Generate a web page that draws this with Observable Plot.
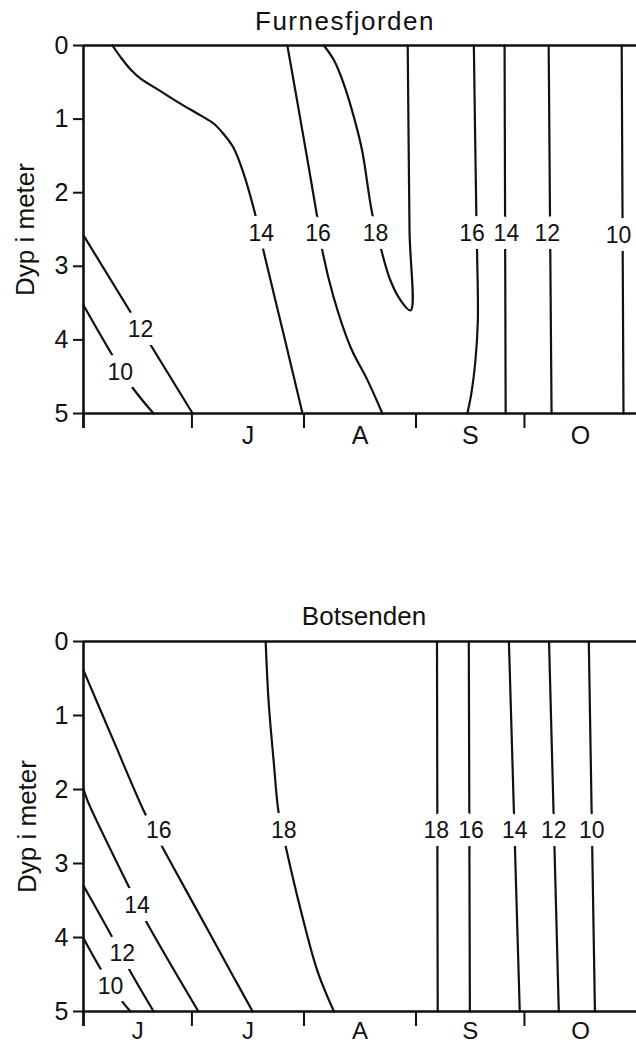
<!DOCTYPE html>
<html>
<head>
<meta charset="utf-8">
<script src="https://cdn.jsdelivr.net/npm/d3@7"></script>
<script src="https://cdn.jsdelivr.net/npm/@observablehq/plot@0.6"></script>
<style>
  body { margin: 0; background: #fff; font-family: "Liberation Sans", Arial, Helvetica, sans-serif; }
  .panel { position: relative; width: 636px; }
  .title { position: absolute; left: 0; text-align: center; font-size: 26px; line-height: 26px; color: #111; white-space: nowrap; }
</style>
</head>
<body>
<div class="panel" id="p1"><div class="title" id="t1" style="top:8px;width:690px;letter-spacing:1.5px">Furnesfjorden</div></div>
<div class="panel" id="p2"><div class="title" id="t2" style="top:83px;width:728px">Botsenden</div></div>
<script>
// x = days after 1 June, y = depth (m)
const monthStarts = [0, 30, 61, 92, 122, 153];
const monthLabelsTop = ["", "J", "A", "S", "O"];
const monthLabelsBottom = ["J", "J", "A", "S", "O"];
const depthTicks = [0, 1, 2, 3, 4, 5];
const yLabel = "Dyp i meter";

// Furnesfjorden isotherms: [day, depth]
const furnes14a = [[8.0,0],[10.6,0.18],[13.3,0.34],[15.8,0.45],[21.3,0.62],[26.8,0.79],[32.4,0.95],[36.0,1.06],[38.7,1.20],[41.5,1.39],[44.3,1.74],[47.6,2.31],[49.8,2.79],[55.3,3.91],[60.6,5]];
const furnes16a = [[56.4,0],[60.6,1.17],[64.7,2.34],[66.1,2.79],[69.2,3.42],[73.9,4.10],[78.6,4.55],[82.7,5]];
const furnes18  = [[66.5,0],[69.3,0.20],[72.0,0.52],[74.8,0.97],[77.1,1.43],[79.9,2.29],[82.5,2.80],[84.9,3.19],[87.7,3.46],[90.5,3.60],[90.2,2.51],[89.7,0]];
const furnes16b = [[108.0,0],[108.7,2.34],[108.9,2.83],[109.1,3.74],[108.4,4.3],[107.3,4.73],[106.2,5]];
const furnes14b = [[116.5,0],[116.8,5]];
const furnes12b = [[128.7,0],[129.5,5]];
const furnes10b = [[148.9,0],[149.4,5]];
const furnes12a = [[0,2.58],[30.2,5]];
const furnes10a = [[0,3.53],[8.0,4.21],[13.6,4.65],[19.4,5]];
// labels: [temp, day, depth]
const furnesLabels = [[14,49.2,2.55],[16,64.9,2.55],[18,80.8,2.55],[16,107.5,2.55],[14,117.0,2.55],[12,128.3,2.55],[10,148.0,2.58],[12,15.8,3.86],[10,10.2,4.45]];

// Botsenden isotherms
const bots16a = [[0,0.39],[8.3,1.34],[16.6,2.28],[21.3,2.73],[31.5,3.64],[41.6,4.54],[46.8,5]];
const bots14a = [[0,1.99],[1.1,2.15],[13.0,3.36],[17.2,3.77],[31.8,5]];
const bots12a = [[0,3.30],[8.0,4.0],[12.5,4.42],[19.4,5]];
const bots10a = [[0,4.01],[5.3,4.47],[10.8,4.87],[13.0,5]];
const bots18a = [[50.4,0],[51.2,0.8],[52.6,1.61],[54.0,2.32],[55.9,2.76],[60.0,3.61],[64.7,4.45],[69.3,5]];
const bots18b = [[97.8,0],[98.0,5]];
const bots16b = [[106.6,0],[106.9,5]];
const bots14b = [[117.7,0],[120.7,5]];
const bots12b = [[128.8,0],[131.5,5]];
const bots10b = [[139.8,0],[141.5,5]];
const botsLabels = [[16,20.8,2.55],[14,14.8,3.57],[12,10.7,4.22],[10,7.5,4.66],[18,55.4,2.55],[18,97.6,2.55],[16,107.2,2.55],[14,119.3,2.55],[12,130.1,2.55],[10,140.6,2.55]];

const ink = "#111";
const font = '"Liberation Sans", Arial, Helvetica, sans-serif';

function panel({lines, labels, monthLabels, height, marginTop, marginBottom, yLabelDx, monthPadding, monthSize}) {
  const rows = lines.flatMap((pts, id) => pts.map(([day, depth]) => ({id, day, depth})));
  const mids = monthStarts.slice(0, -1).map((d, i) => (d + monthStarts[i + 1]) / 2);
  return Plot.plot({
    width: 636, height, marginTop, marginBottom, marginLeft: 83, marginRight: 0,
    style: {fontFamily: font, background: "white", color: ink},
    x: {domain: [monthStarts[0], monthStarts[monthStarts.length - 1]]},
    y: {domain: [0, 5], reverse: true},
    marks: [
      Plot.line(rows, {x: "day", y: "depth", z: "id", curve: "catmull-rom", stroke: ink, strokeWidth: 2.2}),
      Plot.text(labels, {x: d => d[1], y: d => d[2], text: d => String(d[0]), fontSize: 23, fill: ink,
        stroke: "white", strokeWidth: 16, paintOrder: "stroke", strokeLinejoin: "round"}),
      Plot.ruleY([0, 5], {stroke: ink, strokeWidth: 2.6}),
      Plot.ruleX([monthStarts[0]], {stroke: ink, strokeWidth: 2.6, insetBottom: -15}),
      Plot.axisX({ticks: monthStarts.slice(0, -1), tickSize: 15, tickFormat: () => "", strokeWidth: 2, label: null}),
      Plot.axisX({ticks: mids, tickSize: 0, tickPadding: monthPadding, fontSize: monthSize, label: null,
        tickFormat: d => monthLabels[mids.indexOf(d)]}),
      Plot.axisY({ticks: depthTicks, tickSize: 10, tickPadding: 5, fontSize: 25, strokeWidth: 2, label: null,
        tickFormat: d => String(d)}),
      Plot.text([yLabel], {frameAnchor: "left", dx: yLabelDx, rotate: -90, textAnchor: "middle", fontSize: 26, fill: ink})
    ]
  });
}

document.getElementById("p1").prepend(panel({
  lines: [furnes14a, furnes16a, furnes18, furnes16b, furnes14b, furnes12b, furnes10b, furnes12a, furnes10a],
  labels: furnesLabels, monthLabels: monthLabelsTop,
  height: 520, marginTop: 45, marginBottom: 107, yLabelDx: -58, monthPadding: 13, monthSize: 25
}));
document.getElementById("p2").prepend(panel({
  lines: [bots16a, bots14a, bots12a, bots10a, bots18a, bots18b, bots16b, bots14b, bots12b, bots10b],
  labels: botsLabels, monthLabels: monthLabelsBottom,
  height: 525, marginTop: 121, marginBottom: 34, yLabelDx: -56, monthPadding: 10, monthSize: 24
}));
</script>
</body>
</html>
